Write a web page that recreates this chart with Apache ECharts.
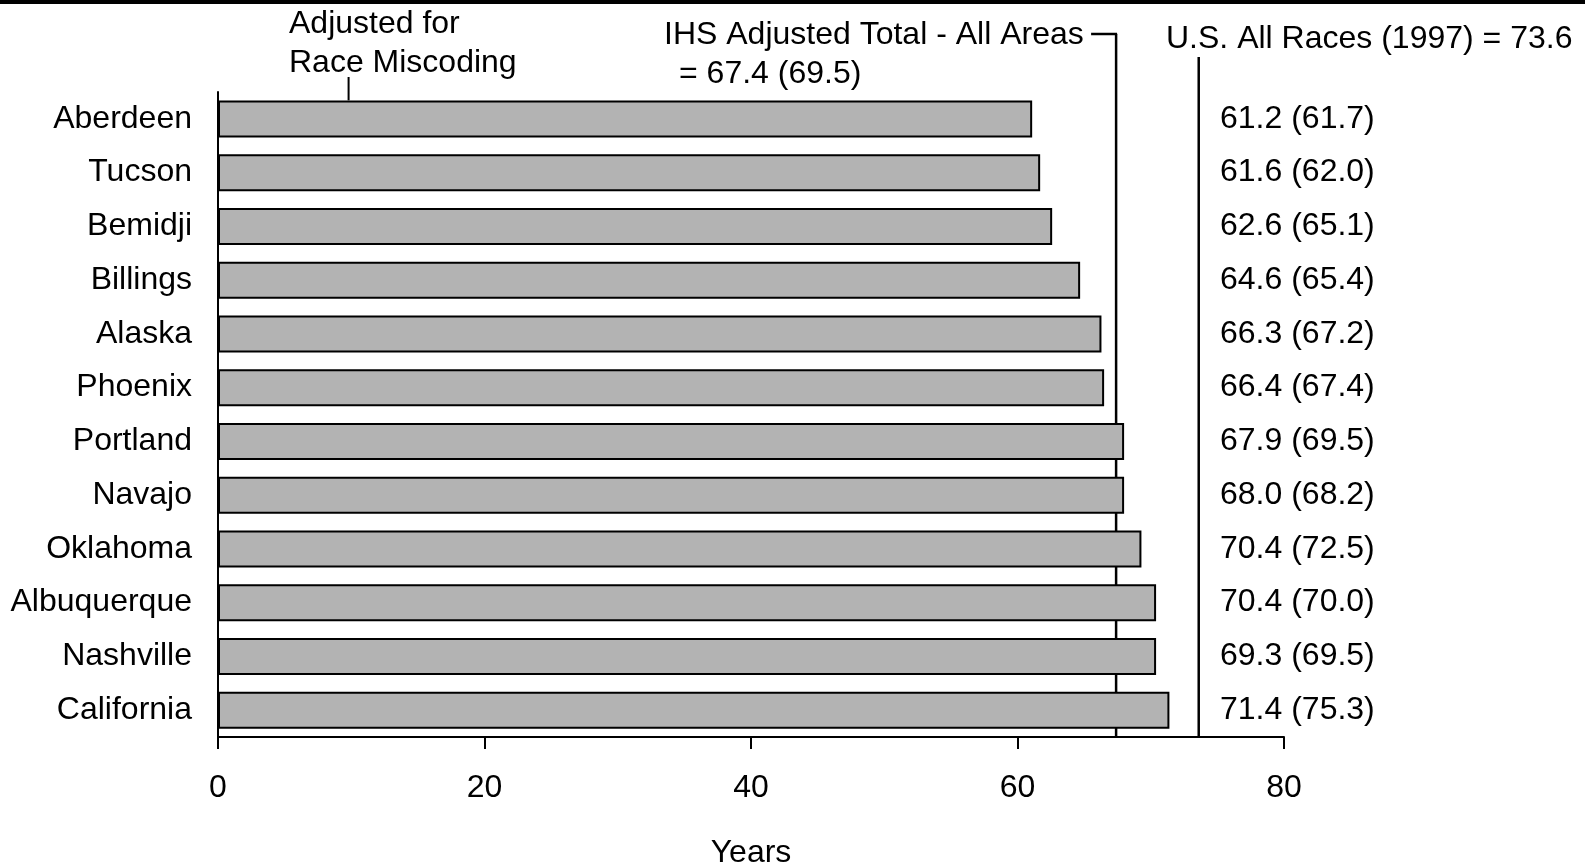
<!DOCTYPE html>
<html>
<head>
<meta charset="utf-8">
<script src="https://cdn.jsdelivr.net/npm/echarts@6/dist/echarts.min.js"></script>
<style>
html,body{margin:0;padding:0;background:#fff;}
#c{width:1585px;height:866px;}
</style>
</head>
<body>
<div id="c"></div>
<script>
// ---- data ----
var categories = ['Aberdeen','Tucson','Bemidji','Billings','Alaska','Phoenix','Portland','Navajo','Oklahoma','Albuquerque','Nashville','California'];
var barValues = [61.1, 61.7, 62.6, 64.7, 66.3, 66.5, 68.0, 68.0, 69.3, 70.4, 70.4, 71.4];
var valueLabels = ['61.2 (61.7)','61.6 (62.0)','62.6 (65.1)','64.6 (65.4)','66.3 (67.2)','66.4 (67.4)','67.9 (69.5)','68.0 (68.2)','70.4 (72.5)','70.4 (70.0)','69.3 (69.5)','71.4 (75.3)'];
var xTicks = [0, 20, 40, 60, 80];
var ihsTotal = 67.4;
var usAllRaces = 73.6;
var adjustedPointer = 9.8;

var FONT = '"Liberation Sans", Arial, sans-serif';
var FS = 32;

var chart = echarts.init(document.getElementById('c'), null, {renderer:'canvas'});
var option = {
  animation: false,
  backgroundColor: '#fff',
  textStyle: {fontFamily: FONT, color: '#000'},
  grid: {left: 218, right: 301, top: 92, bottom: 129, containLabel: false, outerBoundsMode: 'none'},
  xAxis: {
    type: 'value', min: xTicks[0], max: xTicks[xTicks.length-1], interval: 20,
    splitLine: {show: false},
    axisLine: {show: true, lineStyle: {color: '#000', width: 2}},
    axisTick: {show: true, length: 12, lineStyle: {color: '#000', width: 2}},
    axisLabel: {fontSize: FS, color: '#000', fontFamily: FONT, margin: 35},
    name: 'Years', nameLocation: 'middle', nameGap: 100,
    nameTextStyle: {fontSize: FS, color: '#000', fontFamily: FONT}
  },
  yAxis: [{
    type: 'category', data: categories, inverse: true,
    axisLine: {show: true, lineStyle: {color: '#000', width: 2}},
    axisTick: {show: false},
    axisLabel: {fontSize: FS, color: '#000', fontFamily: FONT, margin: 26}
  },{
    type: 'category', data: valueLabels, inverse: true, position: 'right',
    axisLine: {show: false}, axisTick: {show: false},
    axisLabel: {fontSize: FS, color: '#000', fontFamily: FONT, margin: -64, align: 'left', padding: [7, 0, 0, 0]}
  }],
  series: [{
    type: 'bar', data: barValues, yAxisIndex: 0, barWidth: 37,
    itemStyle: {color: '#b3b3b3', borderColor: '#000', borderWidth: 2},
    silent: true
  }]
};
chart.setOption(option);

// annotation lines placed via the chart's own scales
var xIhs = chart.convertToPixel({xAxisIndex:0}, ihsTotal);
var xUs = chart.convertToPixel({xAxisIndex:0}, usAllRaces);
var xAdj = chart.convertToPixel({xAxisIndex:0}, adjustedPointer);
var yLast = chart.convertToPixel({yAxisIndex:0}, categories[categories.length-1]);
var yFirst = chart.convertToPixel({yAxisIndex:0}, categories[0]);
var band = (yLast - yFirst) / (categories.length - 1);
var yAxisBottom = yLast + band / 2;
var firstBarTop = yFirst - 18.5;

var ls = {stroke: '#000', lineWidth: 2.5};
chart.setOption({
  graphic: [
    {type: 'rect', shape: {x: 0, y: 0, width: 1585, height: 4}, style: {fill: '#000'}},
    {type: 'line', shape: {x1: xIhs, y1: 34, x2: xIhs, y2: yAxisBottom}, style: ls},
    {type: 'line', shape: {x1: xIhs - 25, y1: 34, x2: xIhs + 1, y2: 34}, style: ls},
    {type: 'line', shape: {x1: xUs, y1: 57, x2: xUs, y2: yAxisBottom}, style: ls},
    {type: 'line', shape: {x1: xAdj, y1: 77, x2: xAdj, y2: firstBarTop}, style: {stroke:'#000', lineWidth: 2}},
    {type: 'text', x: 289, y: 24, style: {text: 'Adjusted for', font: FS + 'px ' + FONT, fill: '#000', textVerticalAlign: 'middle'}},
    {type: 'text', x: 289, y: 63, style: {text: 'Race Miscoding', font: FS + 'px ' + FONT, fill: '#000', textVerticalAlign: 'middle'}},
    {type: 'text', x: 664, y: 35, style: {text: 'IHS Adjusted Total - All Areas', font: FS + 'px ' + FONT, fill: '#000', textVerticalAlign: 'middle'}},
    {type: 'text', x: 679, y: 74, style: {text: '= 67.4 (69.5)', font: FS + 'px ' + FONT, fill: '#000', textVerticalAlign: 'middle'}},
    {type: 'text', x: 1166, y: 39, style: {text: 'U.S. All Races (1997) = 73.6', font: FS + 'px ' + FONT, fill: '#000', textVerticalAlign: 'middle'}}
  ]
});
</script>
</body>
</html>
